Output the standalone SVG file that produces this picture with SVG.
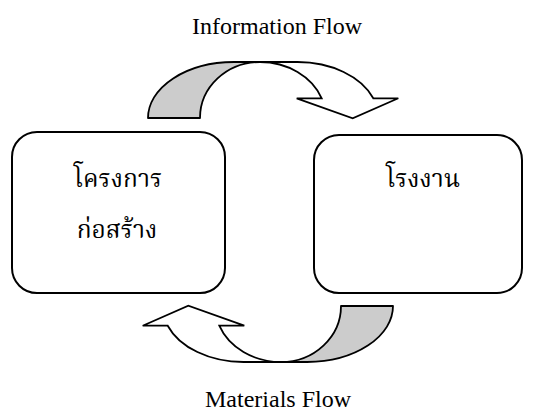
<svg xmlns="http://www.w3.org/2000/svg" width="538" height="413" viewBox="0 0 538 413">
<style>
.box{fill:#fff;stroke:#000;stroke-width:2}
.back{fill:#cccccc;stroke:#000;stroke-width:1.8;stroke-linejoin:round}
.front{fill:#fff;stroke:#000;stroke-width:1.8;stroke-linejoin:miter}
.lbl{font-family:"Liberation Serif","Times New Roman",serif;font-size:24px;fill:#000}
.th{font-family:"Noto Serif Thai","Noto Sans Thai","Angsana New","Liberation Serif","DejaVu Serif",serif;font-size:24.5px;fill:#000;text-anchor:middle}
</style>
<defs>
<g id="curvedArrow">
<path class="back" d="M148,118 A86,56 0 0 1 234,62 L260,62 A60,56 0 0 0 200,118 Z"/>
<path class="front" d="M260,62 L297.5,62 A81,56 0 0 1 373.3,98.3 L398.3,98.3 L352.7,118.3 L296.7,98.3 L321.7,98.3 A66,56 0 0 0 260,62 Z"/>
</g>
</defs>
<g id="connectors">
<use id="information-arrow" href="#curvedArrow"/>
<use id="materials-arrow" href="#curvedArrow" transform="rotate(180 270.5 212)"/>
</g>
<g id="node-project">
<rect class="box" x="12" y="132" width="213" height="161" rx="25" ry="25"/>
<text class="th" x="118" y="187">โครงการ</text>
<text class="th" x="117" y="238">ก่อสร้าง</text>
</g>
<g id="node-factory">
<rect class="box" x="314" y="135" width="208" height="158" rx="25" ry="25"/>
<text class="th" x="423" y="187">โรงงาน</text>
</g>
<g id="label-information">
<text class="lbl" x="192" y="34">Information Flow</text>
</g>
<g id="label-materials">
<text class="lbl" x="205" y="407">Materials Flow</text>
</g>
</svg>
